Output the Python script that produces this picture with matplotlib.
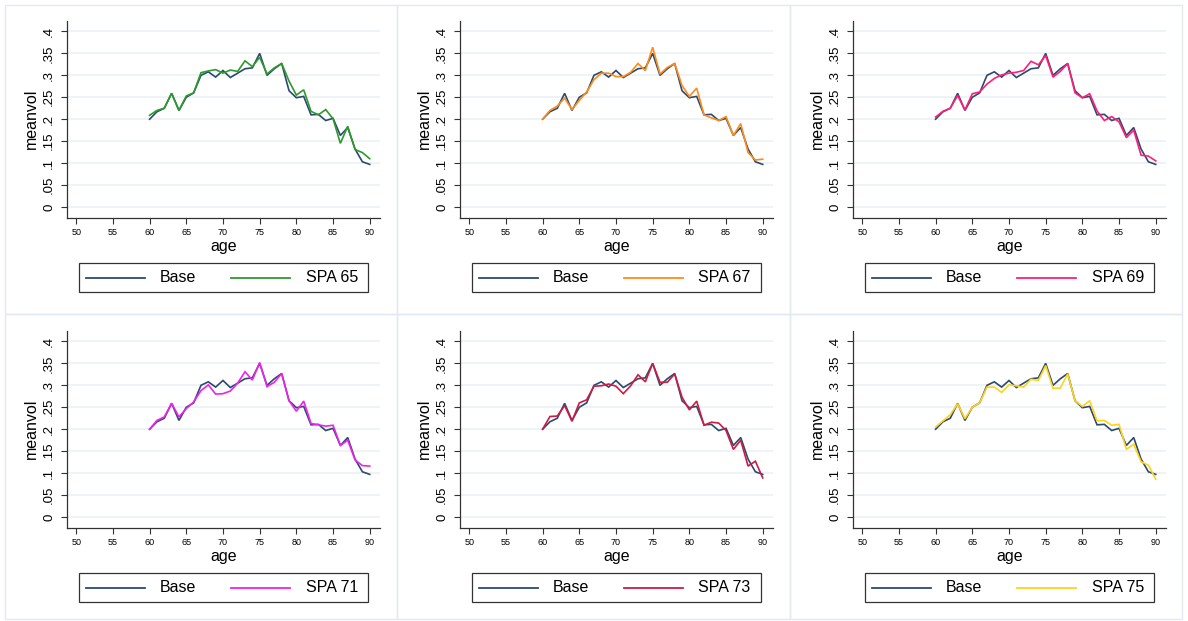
import matplotlib
matplotlib.use("Agg")
import matplotlib.pyplot as plt
from matplotlib.lines import Line2D
from matplotlib.patches import Rectangle

plt.rcParams["font.family"] = ["Liberation Sans", "DejaVu Sans"]

# Mean volatility by age: baseline and state-pension-age scenarios
ages = list(range(60, 91))

base = [0.200, 0.217, 0.225, 0.259, 0.220, 0.250, 0.260, 0.300, 0.308, 0.296,
        0.311, 0.295, 0.305, 0.315, 0.317, 0.350, 0.300, 0.315, 0.327, 0.265,
        0.249, 0.252, 0.210, 0.211, 0.197, 0.202, 0.163, 0.181, 0.132, 0.103,
        0.097]

spa65 = [0.209, 0.220, 0.225, 0.259, 0.220, 0.253, 0.260, 0.306, 0.310, 0.313,
         0.305, 0.312, 0.309, 0.333, 0.320, 0.341, 0.303, 0.317, 0.327, 0.287,
         0.255, 0.267, 0.218, 0.210, 0.222, 0.201, 0.145, 0.184, 0.131, 0.124,
         0.110]

spa67 = [0.200, 0.220, 0.230, 0.248, 0.222, 0.243, 0.262, 0.290, 0.305, 0.305,
         0.297, 0.297, 0.307, 0.327, 0.311, 0.364, 0.303, 0.318, 0.327, 0.277,
         0.252, 0.271, 0.210, 0.203, 0.197, 0.206, 0.163, 0.190, 0.124, 0.107,
         0.109]

spa69 = [0.205, 0.218, 0.225, 0.254, 0.221, 0.258, 0.262, 0.280, 0.293, 0.301,
         0.305, 0.307, 0.311, 0.332, 0.324, 0.345, 0.296, 0.309, 0.327, 0.260,
         0.249, 0.258, 0.219, 0.197, 0.206, 0.194, 0.158, 0.175, 0.118, 0.116,
         0.105]

spa71 = [0.200, 0.220, 0.228, 0.259, 0.228, 0.247, 0.262, 0.288, 0.301, 0.280,
         0.281, 0.287, 0.305, 0.331, 0.312, 0.352, 0.297, 0.307, 0.327, 0.265,
         0.241, 0.264, 0.213, 0.210, 0.207, 0.209, 0.163, 0.175, 0.130, 0.117,
         0.116]

spa73 = [0.200, 0.229, 0.230, 0.254, 0.218, 0.260, 0.267, 0.298, 0.299, 0.303,
         0.298, 0.281, 0.299, 0.324, 0.308, 0.350, 0.307, 0.307, 0.326, 0.273,
         0.244, 0.264, 0.209, 0.216, 0.214, 0.197, 0.154, 0.175, 0.116, 0.127,
         0.089]

spa75 = [0.205, 0.219, 0.233, 0.258, 0.224, 0.250, 0.260, 0.296, 0.296, 0.284,
         0.301, 0.299, 0.296, 0.314, 0.311, 0.345, 0.293, 0.294, 0.326, 0.265,
         0.252, 0.265, 0.219, 0.220, 0.209, 0.211, 0.154, 0.166, 0.126, 0.118,
         0.086]

scenario_labels = ["SPA 65", "SPA 67", "SPA 69", "SPA 71", "SPA 73", "SPA 75"]
scenario_values = [spa65, spa67, spa69, spa71, spa73, spa75]
scenario_colors = ["#2e9a2e", "#ff8c1a", "#ff1f7a", "#f020f0", "#d01a44", "#ffd21f"]
base_label = "Base"
base_color = "#2b4a6f"

x_ticks = list(range(50, 91, 5))
y_ticks = [0, 0.05, 0.10, 0.15, 0.20, 0.25, 0.30, 0.35, 0.40]
y_tick_labels = ["0", ".05", ".1", ".15", ".2", ".25", ".3", ".35", ".4"]

W, H = 1188, 621
fig = plt.figure(figsize=(W / 100, H / 100), dpi=100)
fig.patch.set_facecolor("white")


def fx(x):
    return x / W


def fy(y):
    return 1 - y / H


col_edges = [5, 397, 790, 1182]
row_edges = [5, 314, 619]
col_step, row_step = 393, 310
line_w = 1.2

for i, (label, vals, color) in enumerate(zip(scenario_labels, scenario_values, scenario_colors)):
    c, r = i % 3, i // 3
    ox, oy = c * col_step, r * row_step

    # panel frame
    x0, x1 = col_edges[c], col_edges[c + 1]
    y0, y1 = row_edges[r], row_edges[r + 1]
    fig.add_artist(Rectangle((fx(x0), fy(y1)), (x1 - x0) / W, (y1 - y0) / H,
                             transform=fig.transFigure, facecolor="none",
                             edgecolor="#e3eaef", lw=1.0, zorder=0))

    ax = fig.add_axes([fx(66.7 + ox), fy(217.5 + oy), 313.3 / W, 196.8 / H])
    ax.plot(ages, base, color=base_color, lw=line_w, solid_joinstyle="miter")
    ax.plot(ages, vals, color=color, lw=line_w, solid_joinstyle="miter")

    ax.set_xlim(48.7, 91.4)
    ax.set_ylim(-0.024, 0.4245)
    ax.set_xticks(x_ticks)
    ax.set_xticklabels([str(t) for t in x_ticks], fontsize=6.5)
    ax.set_yticks(y_ticks)
    ax.set_yticklabels(y_tick_labels, fontsize=9.5, rotation=90, va="center")
    ax.yaxis.grid(True, color="#e9f0f2", lw=1.1)
    ax.set_axisbelow(True)
    for s in ("top", "right"):
        ax.spines[s].set_visible(False)
    for s in ("left", "bottom"):
        ax.spines[s].set_color("#333333")
        ax.spines[s].set_linewidth(0.9)
    ax.tick_params(axis="both", direction="out", length=4.3, width=0.8, color="#333333")
    ax.tick_params(axis="y", pad=4.0)
    ax.tick_params(axis="x", pad=3.0)

    ax.set_xlabel("age", fontsize=11.5)
    ax.xaxis.label.set_va("center")
    ax.xaxis.set_label_coords(0.5, (217.5 - 247) / 196.8)
    ax.set_ylabel("meanvol", fontsize=11.5)
    ax.yaxis.label.set_va("center")
    ax.yaxis.set_label_coords((31.7 - 66.7) / 313.3, 0.5)

    # legend
    lx0, lx1, ly0, ly1 = 78.7 + ox, 368 + ox, 263 + oy, 292 + oy
    fig.add_artist(Rectangle((fx(lx0), fy(ly1)), (lx1 - lx0) / W, (ly1 - ly0) / H,
                             transform=fig.transFigure, facecolor="white",
                             edgecolor="#333333", lw=0.9))
    ly = 277.7 + oy
    fig.add_artist(Line2D([fx(86 + ox), fx(145 + ox)], [fy(ly), fy(ly)],
                          transform=fig.transFigure, color=base_color, lw=line_w + 0.1))
    fig.text(fx(160 + ox), fy(ly), base_label, fontsize=11.5, va="center", ha="left")
    fig.add_artist(Line2D([fx(231 + ox), fx(290 + ox)], [fy(ly), fy(ly)],
                          transform=fig.transFigure, color=color, lw=line_w + 0.1))
    fig.text(fx(305.5 + ox), fy(ly), label, fontsize=11.5, va="center", ha="left")

fig.savefig("out.png", dpi=100, facecolor="white")
